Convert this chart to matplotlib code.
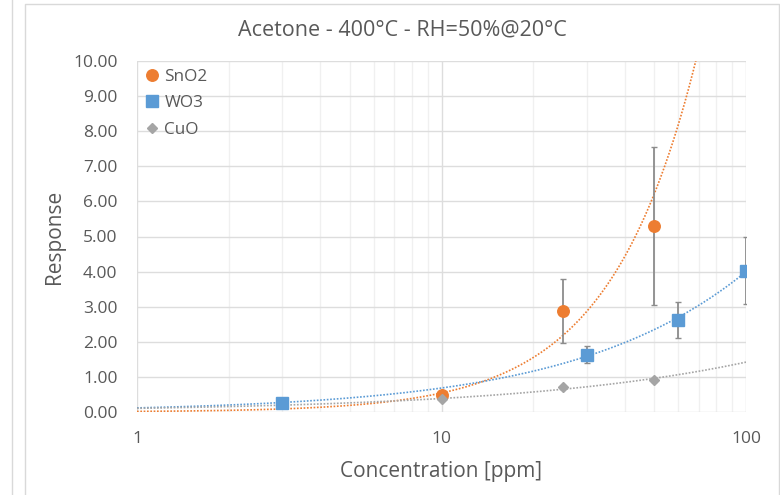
import numpy as np
import matplotlib
matplotlib.use("Agg")
import matplotlib.pyplot as plt
from matplotlib.lines import Line2D
from matplotlib.ticker import FixedLocator, FixedFormatter, FuncFormatter

plt.rcParams['font.family'] = ['Open Sans', 'DejaVu Sans']

title = "Acetone - 400°C - RH=50%@20°C"
x_label = "Concentration [ppm]"
y_label = "Response"

sno2_x = [10, 25, 50]
sno2_y = [0.48, 2.88, 5.30]
sno2_err = [0.05, 0.90, 2.24]

wo3_x = [3, 30, 60, 100]
wo3_y = [0.27, 1.63, 2.62, 4.03]
wo3_err = [0.03, 0.24, 0.51, 0.96]

cuo_x = [10, 25, 50]
cuo_y = [0.37, 0.71, 0.91]
cuo_err = [0.02, 0.04, 0.05]

x_ticks = [1, 10, 100]
x_ticklabels = ["1", "10", "100"]
y_ticks = [0, 1, 2, 3, 4, 5, 6, 7, 8, 9, 10]

c_sno2 = "#ED7D31"
c_wo3 = "#5B9BD5"
c_cuo = "#A5A5A5"
txt = "#595959"

fig = plt.figure(figsize=(7.8, 4.95), dpi=100)
ax = fig.add_axes([137/780, 1-412/495, (746-137)/780, (412-61)/495])

ax.set_xscale('log')
ax.set_xlim(1, 100)
ax.set_ylim(0, 10)

xs = np.logspace(0, 2, 300)

def power_fit(x, y):
    b, ln_a = np.polyfit(np.log(x), np.log(y), 1)
    return np.exp(ln_a), b

for (x, y, c) in [(sno2_x, sno2_y, c_sno2), (wo3_x, wo3_y, c_wo3), (cuo_x, cuo_y, c_cuo)]:
    a, b = power_fit(np.array(x, float), np.array(y, float))
    ax.plot(xs, a * xs ** b, linestyle=(0, (1, 1)), color=c, lw=1.2, zorder=2)

ax.errorbar(sno2_x, sno2_y, yerr=sno2_err, fmt='none', ecolor="#8C8C8C", elinewidth=1.3, capsize=2.5, capthick=1, zorder=3)
ax.errorbar(wo3_x, wo3_y, yerr=wo3_err, fmt='none', ecolor="#8C8C8C", elinewidth=1.3, capsize=2.5, capthick=1, zorder=3)
ax.errorbar(cuo_x, cuo_y, yerr=cuo_err, fmt='none', ecolor="#A5A5A5", elinewidth=1, capsize=2, capthick=1, zorder=3)

ax.plot(sno2_x, sno2_y, 'o', color=c_sno2, ms=8.3, mec=c_sno2, zorder=4, label="SnO2")
ax.plot(wo3_x, wo3_y, 's', color=c_wo3, ms=8, mec=c_wo3, zorder=4, label="WO3")
ax.plot(cuo_x, cuo_y, 'D', color=c_cuo, ms=5.5, mec=c_cuo, zorder=4, label="CuO")

ax.xaxis.set_major_locator(FixedLocator(x_ticks))
ax.xaxis.set_major_formatter(FixedFormatter(x_ticklabels))
minor = [m * d for d in (1, 10) for m in range(2, 10)]
ax.xaxis.set_minor_locator(FixedLocator(minor))
ax.xaxis.set_minor_formatter(FuncFormatter(lambda v, p: ""))
ax.set_yticks(y_ticks)
ax.yaxis.set_major_formatter(FuncFormatter(lambda v, p: f"{v:.2f}"))

ax.grid(True, which='major', axis='y', color="#DDDDDD", lw=1)
ax.grid(True, which='major', axis='x', color="#DDDDDD", lw=1)
ax.grid(True, which='minor', axis='x', color="#F0F0F0", lw=1)
ax.set_axisbelow(True)
for s in ax.spines.values():
    s.set_visible(False)
ax.tick_params(axis='both', which='both', length=0, labelsize=12.5, labelcolor=txt)
ax.tick_params(axis='y', pad=14)
ax.tick_params(axis='x', pad=14)

ax.set_xlabel(x_label, fontsize=15, color=txt, labelpad=10)
ax.set_ylabel(y_label, fontsize=15, color=txt, labelpad=6)

leg = ax.legend(loc='upper left', frameon=False, fontsize=12.3, labelcolor=txt,
                handlelength=0.6, handletextpad=0.45, borderaxespad=0.15,
                labelspacing=0.62, bbox_to_anchor=(0.0, 1.005))

fig.text(402/780, 1-30/495, title, ha='center', va='center', fontsize=15.5, color=txt)

# outer frame lines
fig.add_artist(Line2D([12/780, 12/780], [0, 1], transform=fig.transFigure, color="#D9D9D9", lw=1))
fig.add_artist(Line2D([25/780, 25/780, 779/780, 779/780], [0, 1-4/495, 1-4/495, 0],
                      transform=fig.transFigure, color="#D9D9D9", lw=1))

fig.savefig("out.png", dpi=100)
